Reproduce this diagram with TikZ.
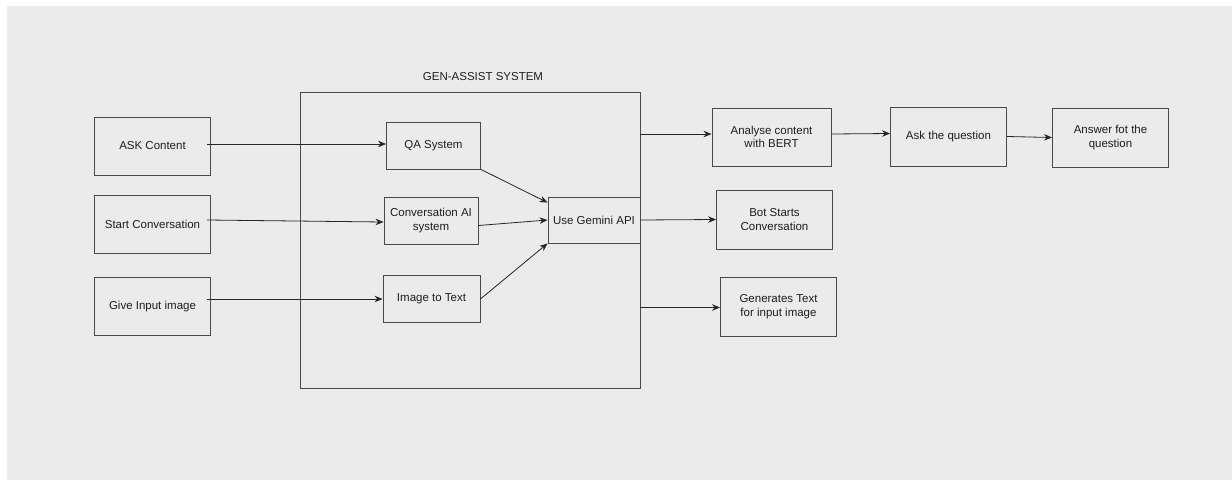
\documentclass[tikz,border=0pt]{standalone}
\usepackage{fontspec}
\setmainfont{Liberation Sans}
\usepackage{tikz}
\usetikzlibrary{arrows.meta}
\definecolor{bgcol}{HTML}{EBEBEB}
\definecolor{edgecol}{HTML}{4A4A4A}
\definecolor{txtcol}{HTML}{1E1E1E}
\tikzstyle{procbox} = [draw=edgecol, line width=0.9pt, rectangle,
    minimum width=116pt, minimum height=58pt, inner sep=2pt,
    align=center, text=txtcol]
\tikzstyle{subbox} = [procbox, minimum width=94pt, minimum height=47pt]
\tikzstyle{flow} = [draw=black!85, line width=0.8pt,
    -{Stealth[length=8pt,width=6.5pt]}]

\begin{document}
\begin{tikzpicture}[x=1pt, y=-1pt,
    every node/.style={font=\fontsize{11.5}{13.5}\selectfont}]
\useasboundingbox (0,0) rectangle (1232,480);
\fill[white] (0,0) rectangle (1232,480);
\fill[bgcol] (7,6) rectangle (1232,480);

% system frame
\node[draw=edgecol, line width=0.9pt, minimum width=340pt,
    minimum height=296pt, inner sep=0pt] (sys) at (470,240) {};
\node[text=txtcol] (systitle) at (483,77) {GEN-ASSIST SYSTEM};

% inputs
\node[procbox] (ask) at (152.5,146) {ASK Content};
\node[procbox] (start) at (152.5,224) {Start Conversation};
\node[procbox] (give) at (152.5,306.5) {Give Input image};

% modules
\node[subbox] (qa) at (433.5,145.5) {QA System};
\node[subbox] (conv) at (431,220.5) {Conversation AI\\system};
\node[subbox, minimum width=97pt] (img) at (431.5,299) {Image to Text};
\node[subbox, minimum width=92pt, minimum height=46pt] (gem) at (594,220) {Use Gemini API};

% outputs
\node[procbox, minimum width=119pt] (bert) at (771.5,137) {Analyse content\\with BERT};
\node[procbox, minimum height=59pt] (askq) at (948.5,136.5) {Ask the question};
\node[procbox, minimum height=59pt] (ans) at (1110.5,137.5) {Answer fot the\\question};
\node[procbox, minimum height=59pt] (bot) at (774.5,219.5) {Bot Starts\\Conversation};
\node[procbox, minimum height=59pt] (gen) at (778.5,306.5) {Generates Text\\for input image};

% connectors
\draw[flow] ([xshift=-4pt,yshift=2pt]ask.east) -- ([yshift=1.5pt]qa.west);
\draw[flow] ([xshift=-4pt,yshift=4pt]start.east) -- ([yshift=-1.5pt]conv.west);
\draw[flow] ([xshift=-4pt]give.east |- img.west) -- (img.west);
\draw[flow] (qa.south east) -- ([yshift=-6pt]gem.north west);
\draw[flow] ([yshift=-5pt]conv.east) -- (gem.west);
\draw[flow] (img.east) -- (gem.south west);
\draw[flow] ([yshift=3pt]sys.east |- bert.west) -- ([yshift=3pt]bert.west);
\draw[flow] ([yshift=3pt]bert.east) -- ([yshift=3pt]askq.west);
\draw[flow] (askq.east) -- (ans.west);
\draw[flow] (gem.east) -- (bot.west);
\draw[flow] ([yshift=-1pt]sys.east |- gen.west) -- ([yshift=-1pt]gen.west);
\end{tikzpicture}
\end{document}
